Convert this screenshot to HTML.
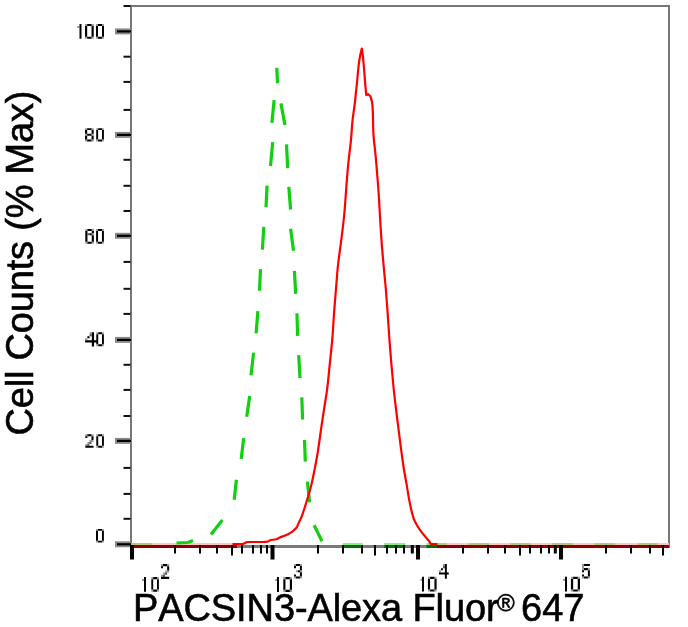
<!DOCTYPE html>
<html><head><meta charset="utf-8"><style>
html,body{margin:0;padding:0;background:#fff;width:688px;height:627px;overflow:hidden}
svg{display:block;will-change:transform}
.tl{font-family:"Liberation Sans",sans-serif;font-size:20.5px;fill:#000}
.tt{font-family:"Liberation Sans",sans-serif;font-size:38px;fill:#000;stroke:#000;stroke-width:0.6px;font-kerning:none}
</style></head><body>
<svg width="688" height="627" viewBox="0 0 688 627">
<rect x="130" y="5" width="540" height="2" fill="#777"/>
<rect x="668" y="5" width="2" height="543" fill="#777"/>
<rect x="130" y="5" width="2" height="543" fill="#777"/>
<rect x="130" y="545" width="540" height="3" fill="#7a7a7a"/>
<rect x="131" y="543" width="102" height="2" fill="#ffc4c4"/>
<rect x="131" y="545" width="106" height="3" fill="#8c0000"/>
<rect x="437" y="543" width="232" height="2" fill="#ffc4c4"/>
<rect x="437" y="545" width="232" height="3" fill="#8c0000"/>
<rect x="131" y="543" width="21.0" height="2" fill="#b8c878"/>
<rect x="342.7" y="543" width="20.1" height="2" fill="#90e890"/>
<rect x="342.7" y="545" width="20.1" height="3" fill="#007000"/>
<rect x="384.2" y="543" width="21.0" height="2" fill="#90e890"/>
<rect x="384.2" y="545" width="21.0" height="3" fill="#007000"/>
<rect x="426.5" y="543" width="10.5" height="2" fill="#90e890"/>
<rect x="426.5" y="545" width="10.5" height="3" fill="#007000"/>
<rect x="437" y="543" width="10.0" height="2" fill="#b8c878"/>
<rect x="468.5" y="543" width="20.5" height="2" fill="#b8c878"/>
<rect x="510.2" y="543" width="20.3" height="2" fill="#b8c878"/>
<rect x="552" y="543" width="21.0" height="2" fill="#b8c878"/>
<rect x="594.4" y="543" width="20.8" height="2" fill="#b8c878"/>
<rect x="637.9" y="543" width="19.8" height="2" fill="#b8c878"/>
<path d="M276.79999999999995,67.8L277.5,83.2M274.1,100.1L271.9,122.8M280.9,103.39999999999999L285.0,125.0M272.70000000000005,142.10000000000002L270.5,166.0M286.5,144.4L287.70000000000005,168.2M267.1,185.60000000000002L266.0,207.2M288.79999999999995,186.8L290.6,209.5M263.8,226.8L262.4,249.7M290.59999999999997,228.70000000000002L293.5,250.79999999999998M260.5,269.1L259.5,290.7M294.4,270.90000000000003L295.70000000000005,293.8M257.90000000000003,311.2L256.09999999999997,333.3M296.9,313.3L297.70000000000005,335.9M253.6,352.6L251.0,375.4M298.7,355.1L300.0,378.0M249.7,396.1L246.70000000000002,416.8M301.79999999999995,397.40000000000003L302.6,419.5M243.7,438.1L241.20000000000002,458.9M304.5,440.0L305.3,461.59999999999997M236.4,479.8L234.20000000000002,499.7M307.4,481.6L309.6,502.3M222.4,519.9L211,534.5M314.1,525.3L322,541.3M176.5,543L188,542.5M188,542.5L193,540.5" stroke="#10d010" stroke-width="3.2" fill="none"/>
<path d="M232.5,544C234.25,544.00 241.25,544.00 243,544C243.67,543.67 246.33,542.33 247,542C250.17,541.97 262.17,542.10 266,541.8C269.83,541.50 268.33,540.62 270,540.2C271.67,539.78 274.37,539.75 276,539.3C277.63,538.85 278.52,538.05 279.8,537.5C281.08,536.95 282.42,536.52 283.7,536C284.98,535.48 286.23,535.00 287.5,534.4C288.77,533.80 290.13,533.20 291.3,532.4C292.47,531.60 293.53,530.55 294.5,529.6C295.47,528.65 296.35,527.93 297.1,526.7C297.85,525.47 298.37,523.58 299,522.2C299.63,520.82 300.27,519.88 300.9,518.4C301.53,516.92 302.17,515.10 302.8,513.3C303.43,511.50 303.80,510.43 304.7,507.6C305.60,504.77 307.07,500.18 308.2,496.3C309.33,492.42 310.43,488.77 311.5,484.3C312.57,479.83 313.55,474.88 314.6,469.5C315.65,464.12 316.73,458.63 317.8,452C318.87,445.37 319.95,436.88 321,429.7C322.05,422.52 323.05,415.85 324.1,408.9C325.15,401.95 326.32,395.85 327.3,388C328.28,380.15 329.15,370.17 330,361.8C330.85,353.43 331.73,345.78 332.4,337.8C333.07,329.82 333.42,321.87 334,313.9C334.58,305.93 335.27,297.82 335.9,290C336.53,282.18 337.22,272.97 337.8,267C338.38,261.03 338.75,259.25 339.4,254.2C340.05,249.15 340.92,243.07 341.7,236.7C342.48,230.33 343.48,222.12 344.1,216C344.72,209.88 344.92,206.32 345.4,200C345.88,193.68 346.47,184.67 347,178.1C347.53,171.53 347.93,166.97 348.6,160.6C349.27,154.23 350.35,146.55 351,139.9C351.65,133.25 351.83,127.02 352.5,120.7C353.17,114.38 354.47,106.35 355,102C355.53,97.65 355.33,98.22 355.7,94.6C356.07,90.98 356.72,85.08 357.2,80.3C357.68,75.52 358.13,69.88 358.6,65.9C359.07,61.92 359.47,59.28 360,56.4C360.53,53.52 361.50,49.90 361.8,48.6C361.98,49.90 362.50,52.72 362.9,56.4C363.30,60.08 363.80,65.93 364.2,70.7C364.60,75.47 364.95,80.93 365.3,85C365.65,89.07 366.13,93.42 366.3,95.1C366.62,94.95 367.88,94.35 368.2,94.2C368.57,94.55 370.03,95.95 370.4,96.3C370.67,97.25 371.60,99.55 372,102C372.40,104.45 372.55,105.52 372.8,111C373.05,116.48 373.03,127.47 373.5,134.9C373.97,142.33 374.98,148.97 375.6,155.6C376.22,162.23 376.68,168.32 377.2,174.7C377.72,181.08 378.18,186.03 378.7,193.9C379.22,201.77 379.77,213.25 380.3,221.9C380.83,230.55 381.28,237.83 381.9,245.8C382.52,253.77 383.33,262.33 384,269.7C384.67,277.07 385.28,282.63 385.9,290C386.52,297.37 387.13,305.93 387.7,313.9C388.27,321.87 388.72,329.82 389.3,337.8C389.88,345.78 390.48,353.43 391.2,361.8C391.92,370.17 392.80,380.15 393.6,388C394.40,395.85 395.20,402.22 396,408.9C396.80,415.58 397.60,421.72 398.4,428.1C399.20,434.48 399.92,440.55 400.8,447.2C401.68,453.85 402.73,461.80 403.7,468C404.67,474.20 405.72,479.28 406.6,484.4C407.48,489.52 408.20,494.40 409,498.7C409.80,503.00 410.60,506.85 411.4,510.2C412.20,513.55 412.85,516.25 413.8,518.8C414.75,521.35 415.90,523.42 417.1,525.5C418.30,527.58 419.65,529.45 421,531.3C422.35,533.15 423.78,534.85 425.2,536.6C426.62,538.35 428.53,540.58 429.5,541.8C430.47,543.02 429.67,543.53 431,543.9C432.33,544.27 436.42,543.98 437.5,544" stroke="#ff0000" stroke-width="2.2" fill="none" stroke-linejoin="round"/>
<rect x="115" y="28.4" width="16" height="6" fill="#8a8a8a"/>
<rect x="117" y="30.3" width="14" height="2.2" fill="#000"/>
<rect x="115" y="131.9" width="16" height="6" fill="#8a8a8a"/>
<rect x="117" y="133.8" width="14" height="2.2" fill="#000"/>
<rect x="115" y="232.8" width="16" height="6" fill="#8a8a8a"/>
<rect x="117" y="234.7" width="14" height="2.2" fill="#000"/>
<rect x="115" y="336.9" width="16" height="6" fill="#8a8a8a"/>
<rect x="117" y="338.8" width="14" height="2.2" fill="#000"/>
<rect x="115" y="437.9" width="16" height="6" fill="#8a8a8a"/>
<rect x="117" y="439.8" width="14" height="2.2" fill="#000"/>
<rect x="115" y="541.3" width="16" height="6" fill="#8a8a8a"/>
<rect x="117" y="543.2" width="14" height="2.2" fill="#000"/>
<rect x="123.5" y="5.0" width="7" height="2" fill="#111"/>
<rect x="123.5" y="55.7" width="7" height="2" fill="#111"/>
<rect x="123.5" y="80.9" width="7" height="2" fill="#111"/>
<rect x="123.5" y="108.9" width="7" height="2" fill="#111"/>
<rect x="123.5" y="158.8" width="7" height="2" fill="#111"/>
<rect x="123.5" y="184.8" width="7" height="2" fill="#111"/>
<rect x="123.5" y="210.0" width="7" height="2" fill="#111"/>
<rect x="123.5" y="260.9" width="7" height="2" fill="#111"/>
<rect x="123.5" y="287.8" width="7" height="2" fill="#111"/>
<rect x="123.5" y="312.9" width="7" height="2" fill="#111"/>
<rect x="123.5" y="363.8" width="7" height="2" fill="#111"/>
<rect x="123.5" y="388.9" width="7" height="2" fill="#111"/>
<rect x="123.5" y="415.0" width="7" height="2" fill="#111"/>
<rect x="123.5" y="466.9" width="7" height="2" fill="#111"/>
<rect x="123.5" y="492.9" width="7" height="2" fill="#111"/>
<rect x="123.5" y="517.8" width="7" height="2" fill="#111"/>
<rect x="130.0" y="545" width="4" height="14.5" fill="#000"/>
<rect x="270.5" y="545" width="4" height="14.5" fill="#000"/>
<rect x="416.0" y="545" width="4" height="14.5" fill="#000"/>
<rect x="559.0" y="545" width="4" height="14.5" fill="#000"/>
<rect x="174.0" y="545" width="2" height="8.5" fill="#000"/>
<rect x="199.0" y="545" width="2" height="8.5" fill="#000"/>
<rect x="216.0" y="545" width="2" height="8.5" fill="#000"/>
<rect x="241.0" y="545" width="2" height="8.5" fill="#000"/>
<rect x="252.0" y="545" width="2" height="8.5" fill="#000"/>
<rect x="260.0" y="545" width="2" height="8.5" fill="#000"/>
<rect x="266.0" y="545" width="2" height="8.5" fill="#000"/>
<rect x="317.0" y="545" width="2" height="8.5" fill="#000"/>
<rect x="342.0" y="545" width="2" height="8.5" fill="#000"/>
<rect x="361.0" y="545" width="2" height="8.5" fill="#000"/>
<rect x="386.0" y="545" width="2" height="8.5" fill="#000"/>
<rect x="395.0" y="545" width="2" height="8.5" fill="#000"/>
<rect x="403.0" y="545" width="2" height="8.5" fill="#000"/>
<rect x="462.0" y="545" width="2" height="8.5" fill="#000"/>
<rect x="487.0" y="545" width="2" height="8.5" fill="#000"/>
<rect x="504.0" y="545" width="2" height="8.5" fill="#000"/>
<rect x="529.0" y="545" width="2" height="8.5" fill="#000"/>
<rect x="540.0" y="545" width="2" height="8.5" fill="#000"/>
<rect x="548.0" y="545" width="2" height="8.5" fill="#000"/>
<rect x="605.0" y="545" width="2" height="8.5" fill="#000"/>
<rect x="630.0" y="545" width="2" height="8.5" fill="#000"/>
<rect x="649.0" y="545" width="2" height="8.5" fill="#000"/>
<rect x="231.0" y="545" width="2" height="10.5" fill="#000"/>
<rect x="374.0" y="545" width="2" height="10.5" fill="#000"/>
<rect x="519.0" y="545" width="2" height="10.5" fill="#000"/>
<rect x="662.0" y="545" width="2" height="10.5" fill="#000"/>
<rect x="410.8" y="545" width="3" height="8.5" fill="#000"/>
<rect x="553.8" y="545" width="3" height="8.5" fill="#000"/>
<path d="M77.20,25.90h2.30v2.00h-2.30zM85.00,24.00h2.18v2.11h-2.18zM91.53,24.00h2.18v2.11h-2.18zM85.00,36.69h2.18v2.11h-2.18zM91.53,36.69h2.18v2.11h-2.18zM96.00,24.00h2.00v2.11h-2.00zM102.00,24.00h2.00v2.11h-2.00zM96.00,36.69h2.00v2.11h-2.00zM102.00,36.69h2.00v2.11h-2.00zM85.00,128.20h2.18v1.89h-2.18zM91.53,128.20h2.18v1.89h-2.18zM85.00,133.86h2.18v1.89h-2.18zM91.53,133.86h2.18v1.89h-2.18zM85.00,139.51h2.18v1.89h-2.18zM91.53,139.51h2.18v1.89h-2.18zM96.20,128.20h1.93v1.89h-1.93zM101.98,128.20h1.93v1.89h-1.93zM96.20,139.51h1.93v1.89h-1.93zM101.98,139.51h1.93v1.89h-1.93zM85.30,229.00h2.15v2.11h-2.15zM91.75,229.00h2.15v2.11h-2.15zM91.75,233.23h2.15v2.11h-2.15zM85.30,241.69h2.15v2.11h-2.15zM91.75,241.69h2.15v2.11h-2.15zM96.10,229.00h1.95v2.11h-1.95zM101.95,229.00h1.95v2.11h-1.95zM96.10,241.69h1.95v2.11h-1.95zM101.95,241.69h1.95v2.11h-1.95zM89.58,332.20h2.24v2.04h-2.24zM85.10,338.33h2.24v2.04h-2.24zM96.30,332.20h1.90v2.01h-1.90zM102.00,332.20h1.90v2.01h-1.90zM96.30,344.29h1.90v2.01h-1.90zM102.00,344.29h1.90v2.01h-1.90zM85.30,434.20h2.05v1.94h-2.05zM91.45,434.20h2.05v1.94h-2.05zM89.40,440.03h2.05v1.94h-2.05zM91.45,440.03h2.05v1.94h-2.05zM87.35,441.97h2.05v1.94h-2.05zM85.30,443.91h2.05v1.94h-2.05zM96.30,434.20h1.90v1.94h-1.90zM102.00,434.20h1.90v1.94h-1.90zM96.30,445.86h1.90v1.94h-1.90zM102.00,445.86h1.90v1.94h-1.90zM96.00,528.90h1.98v1.96h-1.98zM101.93,528.90h1.98v1.96h-1.98zM96.00,540.64h1.98v1.96h-1.98zM101.93,540.64h1.98v1.96h-1.98zM142.10,579.00h1.90v2.00h-1.90zM151.30,577.10h1.90v2.09h-1.90zM157.00,577.10h1.90v2.09h-1.90zM151.30,589.61h1.90v2.09h-1.90zM157.00,589.61h1.90v2.09h-1.90zM161.00,564.10h2.05v2.13h-2.05zM167.15,564.10h2.05v2.13h-2.05zM165.10,570.49h2.05v2.13h-2.05zM167.15,570.49h2.05v2.13h-2.05zM163.05,572.61h2.05v2.13h-2.05zM161.00,574.74h2.05v2.13h-2.05zM275.20,578.90h1.80v2.00h-1.80zM283.30,577.00h2.17v2.14h-2.17zM289.82,577.00h2.17v2.14h-2.17zM283.30,589.86h2.17v2.14h-2.17zM289.82,589.86h2.17v2.14h-2.17zM294.00,564.00h1.97v2.09h-1.97zM299.92,564.00h1.97v2.09h-1.97zM295.98,570.26h1.97v2.09h-1.97zM299.92,570.26h1.97v2.09h-1.97zM294.00,576.51h1.97v2.09h-1.97zM299.92,576.51h1.97v2.09h-1.97zM420.50,578.70h1.50v2.00h-1.50zM427.90,576.80h2.18v2.11h-2.18zM434.43,576.80h2.18v2.11h-2.18zM427.90,589.49h2.18v2.11h-2.18zM434.43,589.49h2.18v2.11h-2.18zM442.92,564.00h1.96v2.11h-1.96zM439.00,570.34h1.96v2.11h-1.96zM563.00,578.70h2.00v2.00h-2.00zM570.90,576.80h2.28v2.11h-2.28zM577.73,576.80h2.28v2.11h-2.28zM570.90,589.49h2.28v2.11h-2.28zM577.73,589.49h2.28v2.11h-2.28zM582.00,563.90h1.97v2.10h-1.97zM582.00,566.00h1.97v2.10h-1.97zM582.00,568.10h1.97v2.10h-1.97zM587.92,568.10h1.97v2.10h-1.97zM582.00,576.50h1.97v2.10h-1.97zM587.92,576.50h1.97v2.10h-1.97z" fill="#999"/>
<path d="M87.45,233.23h2.15v2.11h-2.15zM89.58,334.24h2.24v2.04h-2.24zM89.40,441.97h2.05v1.94h-2.05zM87.35,443.91h2.05v1.94h-2.05zM165.10,572.61h2.05v2.13h-2.05zM163.05,574.74h2.05v2.13h-2.05zM442.92,566.11h1.96v2.11h-1.96z" fill="#555"/>
<path d="M79.50,24.00h2.00v14.80h-2.00zM87.17,24.00h2.18v2.11h-2.18zM89.35,24.00h2.18v2.11h-2.18zM85.00,26.11h2.18v2.11h-2.18zM91.53,26.11h2.18v2.11h-2.18zM85.00,28.23h2.18v2.11h-2.18zM91.53,28.23h2.18v2.11h-2.18zM85.00,30.34h2.18v2.11h-2.18zM91.53,30.34h2.18v2.11h-2.18zM85.00,32.46h2.18v2.11h-2.18zM91.53,32.46h2.18v2.11h-2.18zM85.00,34.57h2.18v2.11h-2.18zM91.53,34.57h2.18v2.11h-2.18zM87.17,36.69h2.18v2.11h-2.18zM89.35,36.69h2.18v2.11h-2.18zM98.00,24.00h2.00v2.11h-2.00zM100.00,24.00h2.00v2.11h-2.00zM96.00,26.11h2.00v2.11h-2.00zM102.00,26.11h2.00v2.11h-2.00zM96.00,28.23h2.00v2.11h-2.00zM102.00,28.23h2.00v2.11h-2.00zM96.00,30.34h2.00v2.11h-2.00zM102.00,30.34h2.00v2.11h-2.00zM96.00,32.46h2.00v2.11h-2.00zM102.00,32.46h2.00v2.11h-2.00zM96.00,34.57h2.00v2.11h-2.00zM102.00,34.57h2.00v2.11h-2.00zM98.00,36.69h2.00v2.11h-2.00zM100.00,36.69h2.00v2.11h-2.00zM87.17,128.20h2.18v1.89h-2.18zM89.35,128.20h2.18v1.89h-2.18zM85.00,130.09h2.18v1.89h-2.18zM91.53,130.09h2.18v1.89h-2.18zM85.00,131.97h2.18v1.89h-2.18zM91.53,131.97h2.18v1.89h-2.18zM87.17,133.86h2.18v1.89h-2.18zM89.35,133.86h2.18v1.89h-2.18zM85.00,135.74h2.18v1.89h-2.18zM91.53,135.74h2.18v1.89h-2.18zM85.00,137.63h2.18v1.89h-2.18zM91.53,137.63h2.18v1.89h-2.18zM87.17,139.51h2.18v1.89h-2.18zM89.35,139.51h2.18v1.89h-2.18zM98.12,128.20h1.93v1.89h-1.93zM100.05,128.20h1.93v1.89h-1.93zM96.20,130.09h1.93v1.89h-1.93zM101.98,130.09h1.93v1.89h-1.93zM96.20,131.97h1.93v1.89h-1.93zM101.98,131.97h1.93v1.89h-1.93zM96.20,133.86h1.93v1.89h-1.93zM101.98,133.86h1.93v1.89h-1.93zM96.20,135.74h1.93v1.89h-1.93zM101.98,135.74h1.93v1.89h-1.93zM96.20,137.63h1.93v1.89h-1.93zM101.98,137.63h1.93v1.89h-1.93zM98.12,139.51h1.93v1.89h-1.93zM100.05,139.51h1.93v1.89h-1.93zM87.45,229.00h2.15v2.11h-2.15zM89.60,229.00h2.15v2.11h-2.15zM85.30,231.11h2.15v2.11h-2.15zM91.75,231.11h2.15v2.11h-2.15zM85.30,233.23h2.15v2.11h-2.15zM89.60,233.23h2.15v2.11h-2.15zM85.30,235.34h2.15v2.11h-2.15zM91.75,235.34h2.15v2.11h-2.15zM85.30,237.46h2.15v2.11h-2.15zM91.75,237.46h2.15v2.11h-2.15zM85.30,239.57h2.15v2.11h-2.15zM91.75,239.57h2.15v2.11h-2.15zM87.45,241.69h2.15v2.11h-2.15zM89.60,241.69h2.15v2.11h-2.15zM98.05,229.00h1.95v2.11h-1.95zM100.00,229.00h1.95v2.11h-1.95zM96.10,231.11h1.95v2.11h-1.95zM101.95,231.11h1.95v2.11h-1.95zM96.10,233.23h1.95v2.11h-1.95zM101.95,233.23h1.95v2.11h-1.95zM96.10,235.34h1.95v2.11h-1.95zM101.95,235.34h1.95v2.11h-1.95zM96.10,237.46h1.95v2.11h-1.95zM101.95,237.46h1.95v2.11h-1.95zM96.10,239.57h1.95v2.11h-1.95zM101.95,239.57h1.95v2.11h-1.95zM98.05,241.69h1.95v2.11h-1.95zM100.00,241.69h1.95v2.11h-1.95zM91.82,332.20h2.24v2.04h-2.24zM91.82,334.24h2.24v2.04h-2.24zM87.34,336.29h2.24v2.04h-2.24zM91.82,336.29h2.24v2.04h-2.24zM91.82,338.33h2.24v2.04h-2.24zM85.10,340.37h2.24v2.04h-2.24zM87.34,340.37h2.24v2.04h-2.24zM89.58,340.37h2.24v2.04h-2.24zM91.82,340.37h2.24v2.04h-2.24zM94.06,340.37h2.24v2.04h-2.24zM91.82,342.41h2.24v2.04h-2.24zM91.82,344.46h2.24v2.04h-2.24zM98.20,332.20h1.90v2.01h-1.90zM100.10,332.20h1.90v2.01h-1.90zM96.30,334.21h1.90v2.01h-1.90zM102.00,334.21h1.90v2.01h-1.90zM96.30,336.23h1.90v2.01h-1.90zM102.00,336.23h1.90v2.01h-1.90zM96.30,338.24h1.90v2.01h-1.90zM102.00,338.24h1.90v2.01h-1.90zM96.30,340.26h1.90v2.01h-1.90zM102.00,340.26h1.90v2.01h-1.90zM96.30,342.27h1.90v2.01h-1.90zM102.00,342.27h1.90v2.01h-1.90zM98.20,344.29h1.90v2.01h-1.90zM100.10,344.29h1.90v2.01h-1.90zM87.35,434.20h2.05v1.94h-2.05zM89.40,434.20h2.05v1.94h-2.05zM85.30,436.14h2.05v1.94h-2.05zM91.45,436.14h2.05v1.94h-2.05zM91.45,438.09h2.05v1.94h-2.05zM85.30,445.86h2.05v1.94h-2.05zM87.35,445.86h2.05v1.94h-2.05zM89.40,445.86h2.05v1.94h-2.05zM91.45,445.86h2.05v1.94h-2.05zM98.20,434.20h1.90v1.94h-1.90zM100.10,434.20h1.90v1.94h-1.90zM96.30,436.14h1.90v1.94h-1.90zM102.00,436.14h1.90v1.94h-1.90zM96.30,438.09h1.90v1.94h-1.90zM102.00,438.09h1.90v1.94h-1.90zM96.30,440.03h1.90v1.94h-1.90zM102.00,440.03h1.90v1.94h-1.90zM96.30,441.97h1.90v1.94h-1.90zM102.00,441.97h1.90v1.94h-1.90zM96.30,443.91h1.90v1.94h-1.90zM102.00,443.91h1.90v1.94h-1.90zM98.20,445.86h1.90v1.94h-1.90zM100.10,445.86h1.90v1.94h-1.90zM97.97,528.90h1.98v1.96h-1.98zM99.95,528.90h1.98v1.96h-1.98zM96.00,530.86h1.98v1.96h-1.98zM101.93,530.86h1.98v1.96h-1.98zM96.00,532.81h1.98v1.96h-1.98zM101.93,532.81h1.98v1.96h-1.98zM96.00,534.77h1.98v1.96h-1.98zM101.93,534.77h1.98v1.96h-1.98zM96.00,536.73h1.98v1.96h-1.98zM101.93,536.73h1.98v1.96h-1.98zM96.00,538.69h1.98v1.96h-1.98zM101.93,538.69h1.98v1.96h-1.98zM97.97,540.64h1.98v1.96h-1.98zM99.95,540.64h1.98v1.96h-1.98zM144.00,577.10h2.00v14.60h-2.00zM153.20,577.10h1.90v2.09h-1.90zM155.10,577.10h1.90v2.09h-1.90zM151.30,579.19h1.90v2.09h-1.90zM157.00,579.19h1.90v2.09h-1.90zM151.30,581.27h1.90v2.09h-1.90zM157.00,581.27h1.90v2.09h-1.90zM151.30,583.36h1.90v2.09h-1.90zM157.00,583.36h1.90v2.09h-1.90zM151.30,585.44h1.90v2.09h-1.90zM157.00,585.44h1.90v2.09h-1.90zM151.30,587.53h1.90v2.09h-1.90zM157.00,587.53h1.90v2.09h-1.90zM153.20,589.61h1.90v2.09h-1.90zM155.10,589.61h1.90v2.09h-1.90zM163.05,564.10h2.05v2.13h-2.05zM165.10,564.10h2.05v2.13h-2.05zM161.00,566.23h2.05v2.13h-2.05zM167.15,566.23h2.05v2.13h-2.05zM167.15,568.36h2.05v2.13h-2.05zM161.00,576.87h2.05v2.13h-2.05zM163.05,576.87h2.05v2.13h-2.05zM165.10,576.87h2.05v2.13h-2.05zM167.15,576.87h2.05v2.13h-2.05zM277.00,577.00h2.00v14.90h-2.00zM285.48,577.00h2.17v2.14h-2.17zM287.65,577.00h2.17v2.14h-2.17zM283.30,579.14h2.17v2.14h-2.17zM289.82,579.14h2.17v2.14h-2.17zM283.30,581.29h2.17v2.14h-2.17zM289.82,581.29h2.17v2.14h-2.17zM283.30,583.43h2.17v2.14h-2.17zM289.82,583.43h2.17v2.14h-2.17zM283.30,585.57h2.17v2.14h-2.17zM289.82,585.57h2.17v2.14h-2.17zM283.30,587.71h2.17v2.14h-2.17zM289.82,587.71h2.17v2.14h-2.17zM285.48,589.86h2.17v2.14h-2.17zM287.65,589.86h2.17v2.14h-2.17zM295.98,564.00h1.97v2.09h-1.97zM297.95,564.00h1.97v2.09h-1.97zM294.00,566.09h1.97v2.09h-1.97zM299.92,566.09h1.97v2.09h-1.97zM299.92,568.17h1.97v2.09h-1.97zM297.95,570.26h1.97v2.09h-1.97zM299.92,572.34h1.97v2.09h-1.97zM294.00,574.43h1.97v2.09h-1.97zM299.92,574.43h1.97v2.09h-1.97zM295.98,576.51h1.97v2.09h-1.97zM297.95,576.51h1.97v2.09h-1.97zM422.00,576.80h2.00v14.80h-2.00zM430.07,576.80h2.18v2.11h-2.18zM432.25,576.80h2.18v2.11h-2.18zM427.90,578.91h2.18v2.11h-2.18zM434.43,578.91h2.18v2.11h-2.18zM427.90,581.03h2.18v2.11h-2.18zM434.43,581.03h2.18v2.11h-2.18zM427.90,583.14h2.18v2.11h-2.18zM434.43,583.14h2.18v2.11h-2.18zM427.90,585.26h2.18v2.11h-2.18zM434.43,585.26h2.18v2.11h-2.18zM427.90,587.37h2.18v2.11h-2.18zM434.43,587.37h2.18v2.11h-2.18zM430.07,589.49h2.18v2.11h-2.18zM432.25,589.49h2.18v2.11h-2.18zM444.88,564.00h1.96v2.11h-1.96zM444.88,566.11h1.96v2.11h-1.96zM440.96,568.23h1.96v2.11h-1.96zM444.88,568.23h1.96v2.11h-1.96zM444.88,570.34h1.96v2.11h-1.96zM439.00,572.46h1.96v2.11h-1.96zM440.96,572.46h1.96v2.11h-1.96zM442.92,572.46h1.96v2.11h-1.96zM444.88,572.46h1.96v2.11h-1.96zM446.84,572.46h1.96v2.11h-1.96zM444.88,574.57h1.96v2.11h-1.96zM444.88,576.69h1.96v2.11h-1.96zM565.00,576.80h2.00v14.80h-2.00zM573.17,576.80h2.28v2.11h-2.28zM575.45,576.80h2.28v2.11h-2.28zM570.90,578.91h2.28v2.11h-2.28zM577.73,578.91h2.28v2.11h-2.28zM570.90,581.03h2.28v2.11h-2.28zM577.73,581.03h2.28v2.11h-2.28zM570.90,583.14h2.28v2.11h-2.28zM577.73,583.14h2.28v2.11h-2.28zM570.90,585.26h2.28v2.11h-2.28zM577.73,585.26h2.28v2.11h-2.28zM570.90,587.37h2.28v2.11h-2.28zM577.73,587.37h2.28v2.11h-2.28zM573.17,589.49h2.28v2.11h-2.28zM575.45,589.49h2.28v2.11h-2.28zM583.98,563.90h1.97v2.10h-1.97zM585.95,563.90h1.97v2.10h-1.97zM587.92,563.90h1.97v2.10h-1.97zM583.98,568.10h1.97v2.10h-1.97zM585.95,568.10h1.97v2.10h-1.97zM582.00,570.20h1.97v2.10h-1.97zM587.92,570.20h1.97v2.10h-1.97zM587.92,572.30h1.97v2.10h-1.97zM582.00,574.40h1.97v2.10h-1.97zM587.92,574.40h1.97v2.10h-1.97zM583.98,576.50h1.97v2.10h-1.97zM585.95,576.50h1.97v2.10h-1.97z" fill="#000"/>
<text class="tt" transform="translate(33,435.4) rotate(-90)" letter-spacing="-0.2">Cell Counts (% Max)</text>
<text class="tt" x="133" y="620.5" letter-spacing="-0.1">PACSIN3-Alexa Fluor<tspan font-size="24" dy="-9.5" dx="-1.5">®</tspan><tspan dy="9.5" dx="-4"> 647</tspan></text>
</svg>
</body></html>
